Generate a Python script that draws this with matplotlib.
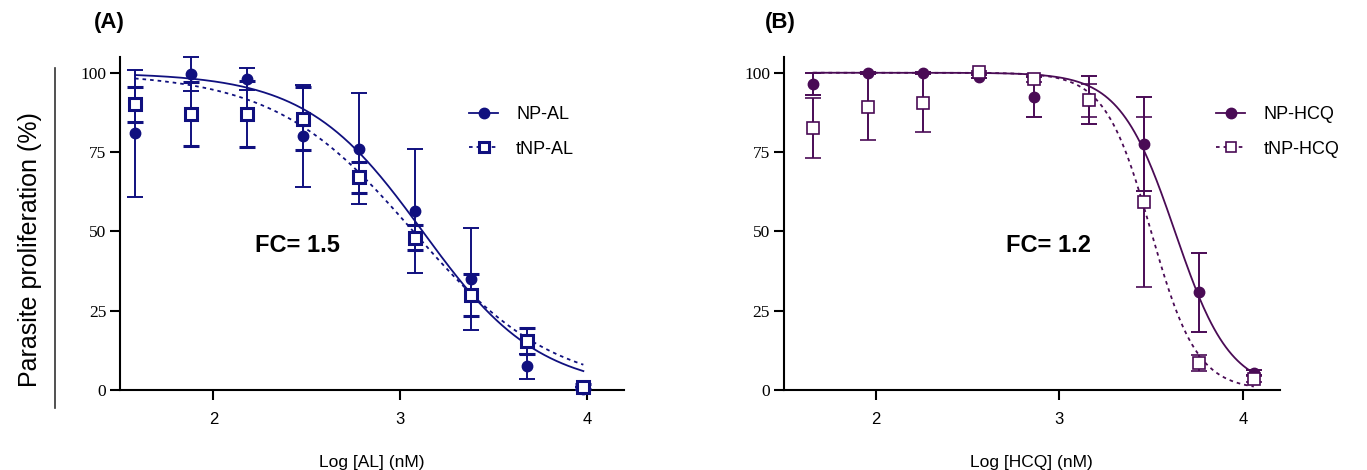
#! /usr/bin/env python3
import numpy as np
import matplotlib.pyplot as plt
from matplotlib.lines import Line2D

# Panel A: AL
logAL = [1.58, 1.88, 2.18, 2.48, 2.78, 3.08, 3.38, 3.68, 3.98]
npAL = [81, 99.5, 98, 80, 76, 56.5, 35, 7.5, 0.5]
npAL_err = [20, 5.4, 3.5, 16, 17.5, 19.5, 16, 4, 0.5]
tnpAL = [90, 87, 87, 85.5, 67, 48, 30, 15.5, 1]
tnpAL_err = [5.6, 10, 10.5, 10, 5, 4, 6.5, 4, 0.8]
# fitted curves (top, bottom, logIC50, hill)
fitNPAL = (100, 0, 3.12, 1.39)
fitTNPAL = (100, 0, 3.07, 1.165)

# Panel B: HCQ
logHCQ = [1.66, 1.96, 2.26, 2.56, 2.86, 3.16, 3.46, 3.76, 4.06]
npHCQ = [96.5, 100, 100, 98.8, 92.4, 91.4, 77.5, 30.8, 5.5]
npHCQ_err = [3.4, 0.3, 0.3, 0.5, 6.3, 7.5, 14.8, 12.4, 0.8]
tnpHCQ = [82.5, 89.3, 90.5, 100.3, 98, 91.4, 59.4, 8.5, 3.5]
tnpHCQ_err = [9.5, 10.6, 9.3, 0.4, 1.0, 5.2, 26.8, 2.6, 1.0]
fitNPHCQ = (100, 0, 3.63, 2.9)
fitTNPHCQ = (100, 0, 3.50, 3.47)

colA = '#10107f'
colB = '#4a0b55'


def logistic(x, p):
    top, bottom, ic50, hill = p
    return bottom + (top - bottom) / (1 + 10 ** ((x - ic50) * hill))


def panel(ax, x, y1, e1, y2, e2, f1, f2, col, xlab, sqw):
    xs = np.linspace(x[0], x[-1], 300)
    ax.plot(xs, logistic(xs, f1), color=col, lw=1.3, linestyle='solid', clip_on=False)
    ax.plot(xs, logistic(xs, f2), color=col, lw=1.3, linestyle=(0, (2, 2.2)), clip_on=False)
    ax.errorbar(x, y1, yerr=e1, fmt='o', color=col, ms=7.5, elinewidth=1.4,
                capsize=5.5, capthick=1.4, clip_on=False, zorder=3)
    ax.errorbar(x, y2, yerr=e2, fmt='s', color=col, ms=8, mfc='white', mec=col, mew=sqw,
                elinewidth=1.4, capsize=5.5, capthick=1.4, clip_on=False, zorder=4)
    ax.set_xlim(1.5, 4.2)
    ax.set_ylim(0, 105)
    ax.set_xticks([2, 3, 4])
    ax.set_yticks([0, 25, 50, 75, 100])
    for s in ['top', 'right']:
        ax.spines[s].set_visible(False)
    for s in ['left', 'bottom']:
        ax.spines[s].set_linewidth(1.5)
    ax.tick_params(direction='out', length=7, width=1.5)
    ax.tick_params(axis='x', labelsize=12, pad=9)
    ax.tick_params(axis='y', labelsize=12.5, pad=3)
    for t in ax.get_yticklabels():
        t.set_family('Liberation Serif')
    for t in ax.get_xticklabels():
        t.set_family('Liberation Sans')
    ax.set_xlabel(xlab, fontsize=12.5, family='Liberation Sans', labelpad=20)
    h1 = Line2D([], [], color=col, lw=1.3, marker='o', ms=7.5)
    h2 = Line2D([], [], color=col, lw=1.3, linestyle=(0, (2, 2.2)), marker='s', ms=7,
                mfc='white', mec=col, mew=sqw)
    return h1, h2


fig = plt.figure(figsize=(13.67, 4.70), dpi=100)
ax1 = fig.add_axes([0.0878, 0.170, 0.369, 0.709])
ax2 = fig.add_axes([0.5735, 0.170, 0.3625, 0.709])

h1, h2 = panel(ax1, logAL, npAL, npAL_err, tnpAL, tnpAL_err, fitNPAL, fitTNPAL,
               colA, 'Log [AL] (nM)', 2.2)
ax1.legend([h1, h2], ['NP-AL', 'tNP-AL'], loc='upper left', bbox_to_anchor=(0.66, 0.90),
           frameon=False, prop={'family': 'Liberation Sans', 'size': 13},
           handlelength=1.6, labelspacing=0.95, handletextpad=1.0)
ax1.text(2.45, 45.7, 'FC= 1.5', fontsize=17, fontweight='bold', family='Liberation Sans',
         ha='center', va='center')

h3, h4 = panel(ax2, logHCQ, npHCQ, npHCQ_err, tnpHCQ, tnpHCQ_err, fitNPHCQ, fitTNPHCQ,
               colB, 'Log [HCQ] (nM)', 1.2)
ax2.legend([h3, h4], ['NP-HCQ', 'tNP-HCQ'], loc='upper left', bbox_to_anchor=(0.84, 0.90),
           frameon=False, prop={'family': 'Liberation Sans', 'size': 13},
           handlelength=1.6, labelspacing=0.95, handletextpad=1.0)
ax2.text(2.94, 45.7, 'FC= 1.2', fontsize=17, fontweight='bold', family='Liberation Sans',
         ha='center', va='center')

fig.text(0.080, 0.952, '(A)', fontsize=16, fontweight='bold', family='Liberation Sans',
         ha='center', va='center')
fig.text(0.571, 0.952, '(B)', fontsize=16, fontweight='bold', family='Liberation Sans',
         ha='center', va='center')

fig.text(0.022, 0.47, 'Parasite proliferation (%)', rotation=90, fontsize=18,
         family='Liberation Sans', ha='center', va='center')
fig.add_artist(Line2D([0.040, 0.040], [1 - 68 / 470, 1 - 408 / 470], color='#333333', lw=1.2))

fig.savefig('out.png', dpi=100)
